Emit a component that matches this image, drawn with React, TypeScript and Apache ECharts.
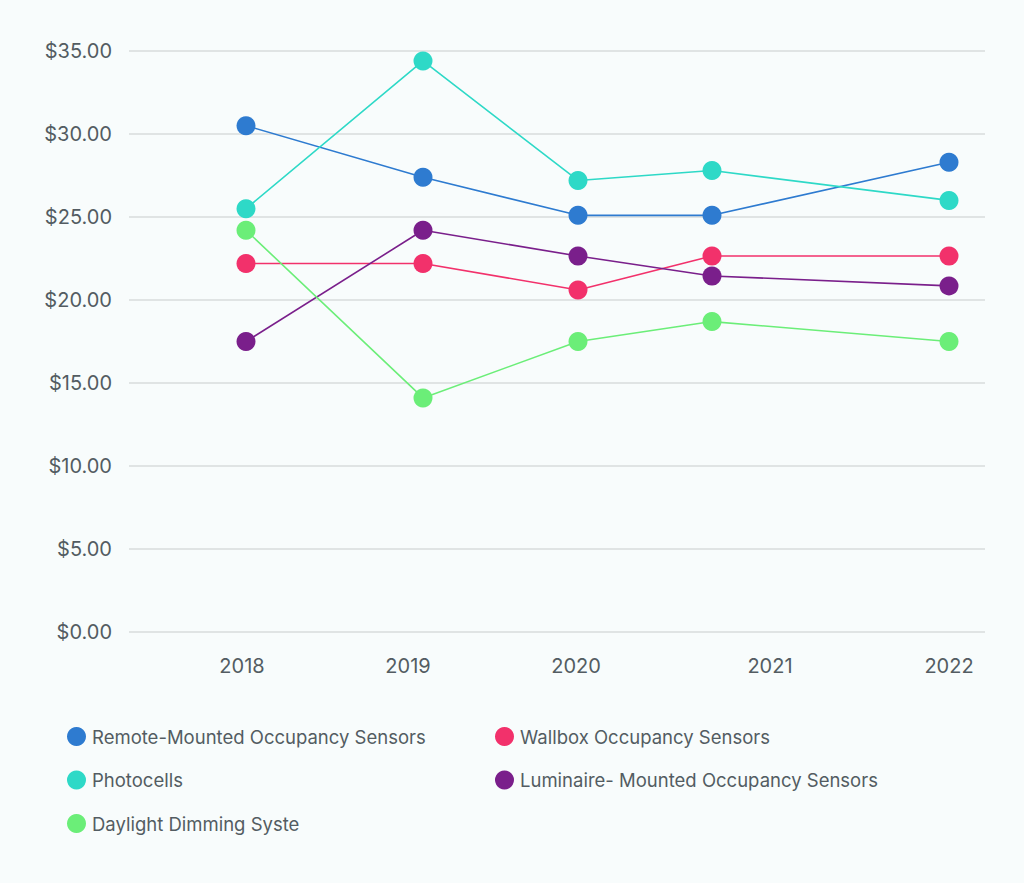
import React, { useEffect, useRef } from "react";
import * as echarts from "echarts";

// Data
const years = ["2018", "2019", "2020", "2021", "2022"];
// horizontal positions (axis units) of the year labels and of the data points
const labelPositions = [113, 279, 447, 641, 820];
const pointPositions = [117, 294, 449, 583, 820];

const seriesNames = [
  "Remote-Mounted Occupancy Sensors",
  "Wallbox Occupancy Sensors",
  "Photocells",
  "Luminaire- Mounted Occupancy Sensors",
  "Daylight Dimming Syste",
];
const remoteMounted = [30.5, 27.4, 25.1, 25.1, 28.3];
const wallbox = [22.2, 22.2, 20.6, 22.65, 22.65];
const photocells = [25.5, 34.4, 27.2, 27.8, 26.0];
const luminaire = [17.5, 24.2, 22.65, 21.45, 20.85];
const daylight = [24.2, 14.1, 17.5, 18.7, 17.5];

const colors = ["#2e7bd0", "#f2316b", "#2ed9c7", "#7a1f8b", "#6bee78"];
const valuesList = [remoteMounted, wallbox, photocells, luminaire, daylight];

const yTicks = { min: 0, max: 35, interval: 5 };

export default function App() {
  const ref = useRef<HTMLDivElement>(null);
  useEffect(() => {
    if (!ref.current) return;
    const chart = echarts.init(ref.current, null, { renderer: "svg" });
    const textColor = "#535c62";
    const font = "Inter, 'Noto Sans', sans-serif";
    const legendText = { color: textColor, fontSize: 18.5, fontFamily: font, padding: [0, 0, 0, 1] };
    const option: any = {
      animation: false,
      backgroundColor: "#f8fcfc",
      textStyle: { fontFamily: font },
      grid: { left: 129, right: 39, top: 51, bottom: 251, containLabel: false },
      xAxis: {
        type: "value",
        min: 0,
        max: 856,
        axisLine: { show: false },
        axisTick: { show: false },
        splitLine: { show: false },
        axisLabel: {
          customValues: labelPositions,
          formatter: (v: number) => {
            const i = labelPositions.indexOf(v);
            return i >= 0 ? years[i] : "";
          },
          color: textColor,
          fontSize: 20,
          fontFamily: font,
          margin: 24,
        },
      },
      yAxis: {
        type: "value",
        min: yTicks.min,
        max: yTicks.max,
        interval: yTicks.interval,
        axisLine: { show: false },
        axisTick: { show: false },
        splitLine: { lineStyle: { color: "#d8dcdc", width: 1.5 } },
        axisLabel: {
          formatter: (v: number) => "$" + v.toFixed(2),
          color: textColor,
          fontSize: 20,
          fontFamily: font,
          margin: 17,
        },
      },
      legend: [
        {
          data: [seriesNames[0], seriesNames[2], seriesNames[4]],
          orient: "vertical",
          left: 62,
          top: 722,
          icon: "circle",
          itemWidth: 19,
          itemHeight: 19,
          itemGap: 24.5,
          textStyle: legendText,
        },
        {
          data: [seriesNames[1], seriesNames[3]],
          orient: "vertical",
          left: 490,
          top: 722,
          icon: "circle",
          itemWidth: 19,
          itemHeight: 19,
          itemGap: 24.5,
          textStyle: legendText,
        },
      ],
      series: seriesNames.map((name, si) => ({
        name,
        type: "line",
        data: valuesList[si].map((v, i) => [pointPositions[i], v]),
        symbol: "circle",
        symbolSize: 19,
        color: colors[si],
        lineStyle: { width: 1.6, color: colors[si] },
        itemStyle: { color: colors[si] },
      })),
    };
    chart.setOption(option);
    return () => chart.dispose();
  }, []);
  return (
    <div
      ref={ref}
      style={{ position: "fixed", left: 0, top: 0, width: 1024, height: 883 }}
    />
  );
}
